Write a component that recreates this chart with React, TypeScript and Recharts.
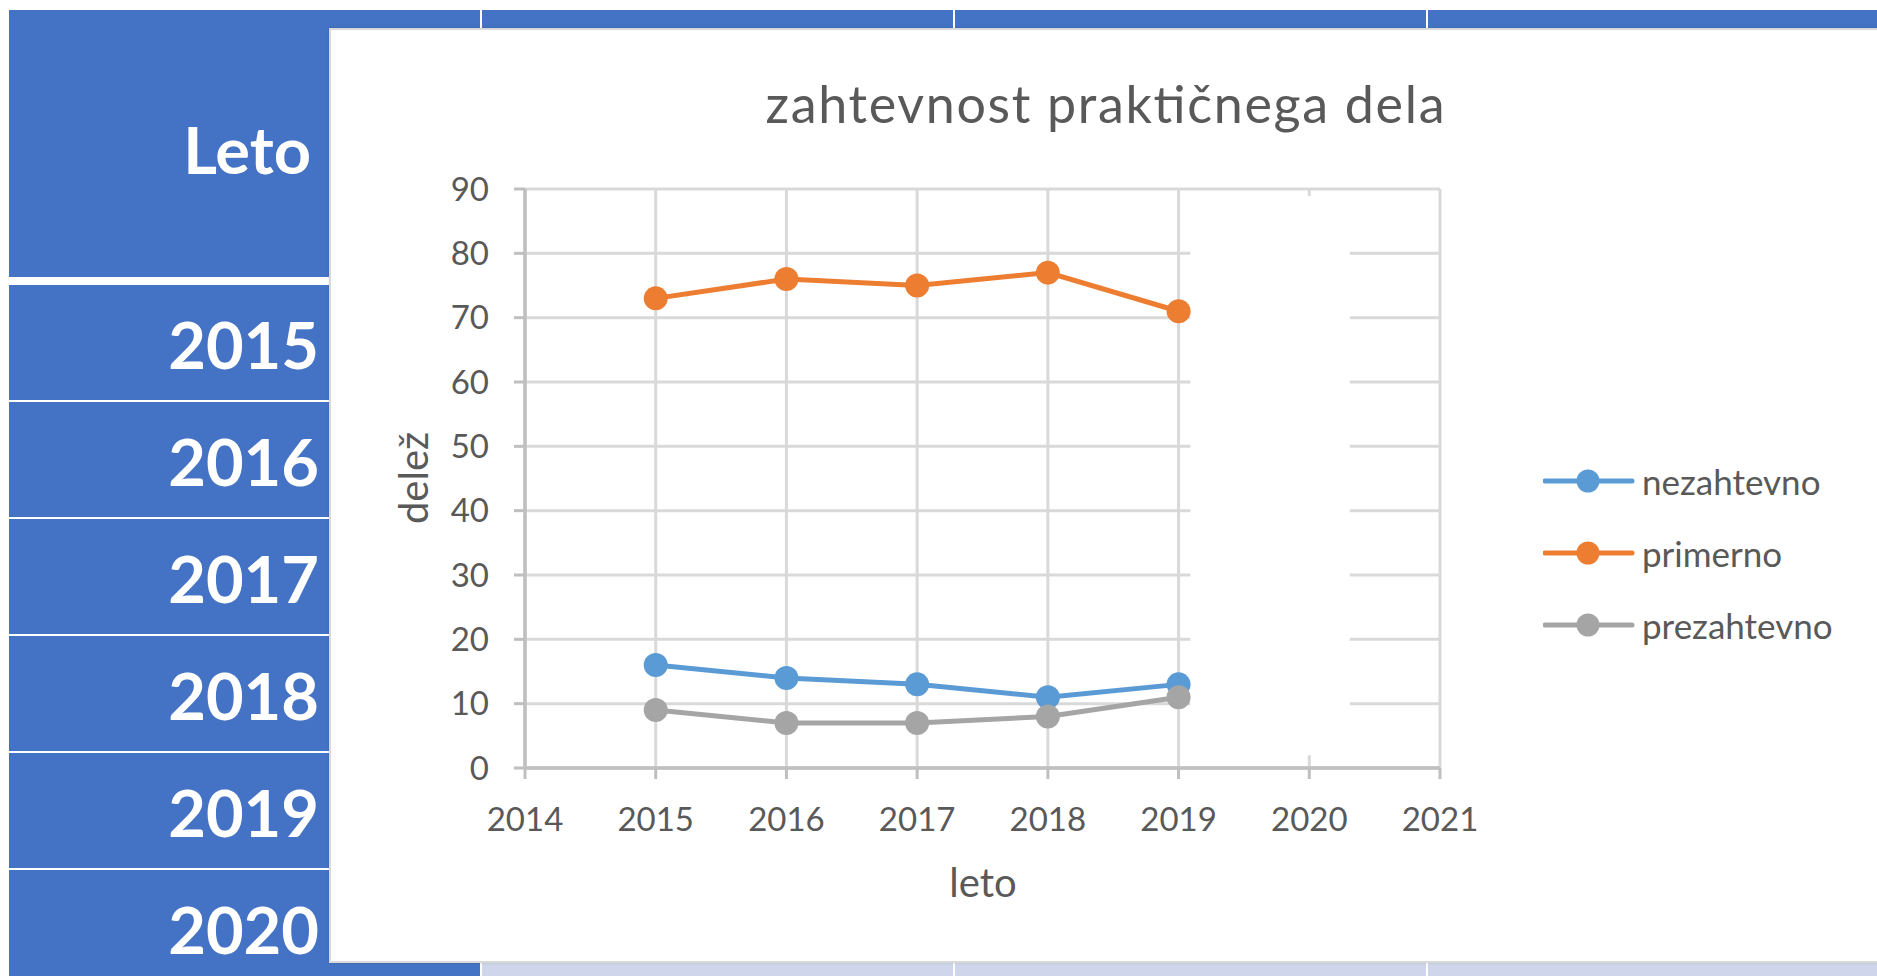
import React from 'react';
import {
  LineChart,
  Line,
  XAxis,
  YAxis,
  CartesianGrid,
  ReferenceArea,
  Legend
} from 'recharts';

// chart data
const years = [2015, 2016, 2017, 2018, 2019];
const nezahtevno = [16, 14, 13, 11, 13];
const primerno = [73, 76, 75, 77, 71];
const prezahtevno = [9, 7, 7, 8, 11];

const xTicks = [2014, 2015, 2016, 2017, 2018, 2019, 2020, 2021];
const yTicks = [0, 10, 20, 30, 40, 50, 60, 70, 80, 90];

// table behind the chart
const headerLabel = 'Leto';
const rowLabels = ['2015', '2016', '2017', '2018', '2019', '2020'];

const series = [
  { key: 'nezahtevno', color: '#5B9BD5' },
  { key: 'primerno', color: '#ED7D31' },
  { key: 'prezahtevno', color: '#A5A5A5' }
];

const data = years.map((leto, i) => ({
  leto,
  nezahtevno: nezahtevno[i],
  primerno: primerno[i],
  prezahtevno: prezahtevno[i]
}));

const FONT = 'Lato, "Open Sans", sans-serif';
const TEXT = '#595959';
const BLUE = '#4472C4';

// row geometry of the slide table
const rowTop = 285;
const rowH = 117;
const colSeps = [480, 953, 1426];

const TableBackground = () => (
  <svg width={1877} height={976} style={{ position: 'absolute', left: 0, top: 0 }}>
    <rect x={0} y={0} width={1877} height={976} fill="#fff" />
    {/* header row */}
    <rect x={9} y={10} width={1868} height={267} fill={BLUE} />
    {/* body rows, banded */}
    {rowLabels.map((_, i) => (
      <rect
        key={'band' + i}
        x={482}
        y={rowTop + i * rowH}
        width={1395}
        height={rowH}
        fill={i % 2 === 1 ? '#CFD5EA' : '#E9EBF5'}
      />
    ))}
    {/* first column */}
    <rect x={9} y={285} width={471} height={700} fill={BLUE} />
    {rowLabels.map((_, i) =>
      i > 0 ? (
        <rect key={'sep' + i} x={9} y={rowTop + i * rowH - 2} width={1868} height={2} fill="#fff" />
      ) : null
    )}
    {colSeps.map((x) => (
      <rect key={'col' + x} x={x} y={10} width={2} height={966} fill="#fff" />
    ))}
    <text x={311} y={174} textAnchor="end" fill="#fff" fontFamily={FONT} fontWeight={700} fontSize={65}>
      {headerLabel}
    </text>
    {rowLabels.map((label, i) => (
      <text
        key={label}
        x={319}
        y={369 + i * rowH}
        textAnchor="end"
        fill="#fff"
        fontFamily={FONT}
        fontWeight={700}
        fontSize={65}
      >
        {label}
      </text>
    ))}
  </svg>
);

// legend keeps the series order (not alphabetical)
const LegendContent = () => (
  <div>
    {series.map((s) => (
      <div key={s.key} style={{ height: 72, display: 'flex', alignItems: 'center' }}>
        <svg width={94} height={72}>
          <line x1={2} y1={36} x2={89} y2={36} stroke={s.color} strokeWidth={5} strokeLinecap="round" />
          <circle cx={45} cy={36} r={11.5} fill={s.color} />
        </svg>
        <span
          style={{
            marginLeft: 5,
            fontFamily: FONT,
            fontSize: 35,
            color: TEXT,
            position: 'relative',
            top: 0
          }}
        >
          {s.key}
        </span>
      </div>
    ))}
  </div>
);

const App = () => {
  return (
    <div style={{ position: 'fixed', left: 0, top: 0, width: 1877, height: 976, overflow: 'hidden', background: '#fff' }}>
      <TableBackground />

      {/* chart box */}
      <div
        style={{
          position: 'absolute',
          left: 329,
          top: 28,
          width: 1570,
          height: 935,
          background: '#fff',
          border: '2px solid #D9D9D9',
          boxSizing: 'border-box',
          boxShadow: '0 0 2px rgba(0,0,0,0.15)'
        }}
      />

      <div style={{ position: 'absolute', left: 330, top: 29 }}>
        <LineChart
          width={1547}
          height={933}
          data={data}
          margin={{ top: 160, right: 437, left: 115, bottom: 114 }}
        >
          <CartesianGrid stroke="#D9D9D9" strokeWidth={3} />
          <XAxis
            dataKey="leto"
            type="number"
            domain={[2014, 2021]}
            ticks={xTicks}
            interval={0}
            height={80}
            stroke="#BFBFBF"
            strokeWidth={3.5}
            tickSize={11}
            tickMargin={29}
            tickLine={{ stroke: '#BFBFBF', strokeWidth: 3 }}
            tick={{ fill: TEXT, fontSize: 33, fontFamily: FONT }}
          />
          <YAxis
            type="number"
            domain={[0, 90]}
            ticks={yTicks}
            interval={0}
            width={80}
            stroke="#BFBFBF"
            strokeWidth={3.5}
            tickSize={11}
            tickMargin={25}
            tickLine={{ stroke: '#BFBFBF', strokeWidth: 3 }}
            tick={{ fill: TEXT, fontSize: 33, fontFamily: FONT }}
          />
          {/* blank patch visible in the original screenshot */}
          <ReferenceArea
            x1={2019.09}
            x2={2020.31}
            y1={2}
            y2={88.9}
            fill="#fff"
            fillOpacity={1}
            stroke="none"
          />
          {series.map((s) => (
            <Line
              key={s.key}
              type="linear"
              dataKey={s.key}
              name={s.key}
              stroke={s.color}
              strokeWidth={5}
              dot={{ r: 12, fill: s.color, stroke: s.color, strokeWidth: 0 }}
              activeDot={false}
              isAnimationActive={false}
            />
          ))}
          <Legend
            layout="vertical"
            align="center"
            verticalAlign="middle"
            content={<LegendContent />}
            wrapperStyle={{ left: 1213, top: 416, width: 320 }}
          />
        </LineChart>
      </div>

      {/* titles */}
      <svg width={1877} height={976} style={{ position: 'absolute', left: 0, top: 0, pointerEvents: 'none' }}>
        <text
          x={1105}
          y={123}
          textAnchor="middle"
          fill={TEXT}
          fontFamily={FONT}
          fontSize={52}
          textLength={679}
          lengthAdjust="spacing"
        >
          zahtevnost praktičnega dela
        </text>
        <text x={983} y={897} textAnchor="middle" fill={TEXT} fontFamily={FONT} fontSize={40}>
          leto
        </text>
        <text
          transform="translate(428,478) rotate(-90)"
          textAnchor="middle"
          fill={TEXT}
          fontFamily={FONT}
          fontSize={40}
        >
          delež
        </text>
      </svg>
    </div>
  );
};

export default App;
